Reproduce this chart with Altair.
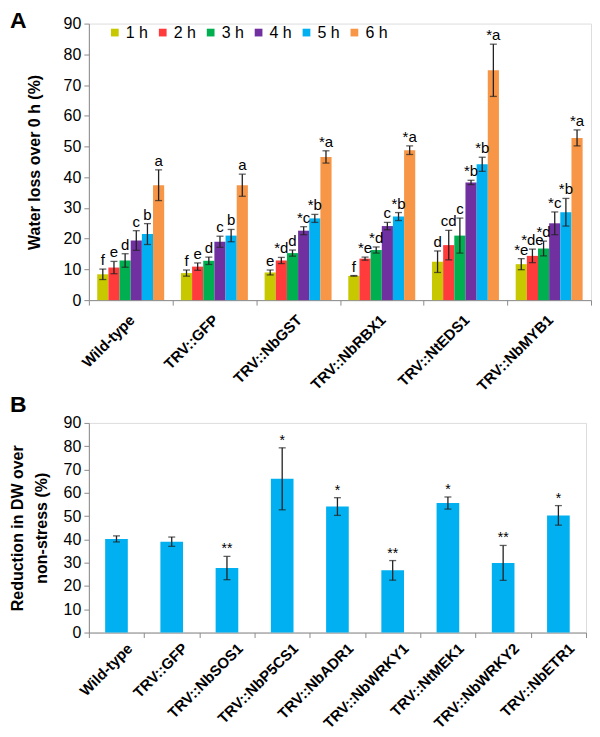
import altair as alt
import pandas as pd

FONT = "Liberation Sans"

# ---------------- Panel A data ----------------
groups_a = ["Wild-type", "TRV::GFP", "TRV::NbGST", "TRV::NbRBX1", "TRV::NtEDS1", "TRV::NbMYB1"]
hours = ["1 h", "2 h", "3 h", "4 h", "5 h", "6 h"]
hour_colors = ["#C8C800", "#FF3B3B", "#00B050", "#7030A0", "#00B0F0", "#F79646"]
means_a = [
    [8.4, 10.6, 12.9, 19.4, 21.5, 37.4],
    [8.8, 10.9, 12.8, 19.0, 21.0, 37.4],
    [9.0, 12.9, 15.3, 22.6, 26.6, 46.6],
    [7.9, 13.5, 16.3, 24.1, 27.2, 48.8],
    [12.5, 17.9, 21.0, 38.3, 44.2, 74.8],
    [11.7, 14.4, 16.8, 25.0, 28.6, 52.8],
]
err_a = [
    [1.7, 2.0, 2.2, 3.2, 3.4, 5.0],
    [1.0, 1.2, 1.2, 1.8, 2.0, 3.6],
    [0.8, 1.0, 1.0, 1.3, 1.3, 2.0],
    [0.1, 0.5, 1.0, 1.2, 1.3, 1.4],
    [3.5, 4.8, 5.7, 0.7, 2.3, 8.5],
    [1.8, 2.2, 2.4, 3.7, 4.5, 2.6],
]
letters_a = [
    ["f", "e", "d", "c", "b", "a"],
    ["f", "e", "d", "c", "b", "a"],
    ["e", "*d", "d", "*c", "*b", "*a"],
    ["f", "*e", "*d", "c", "*b", "*a"],
    ["d", "cd", "c", "*b", "*b", "*a"],
    ["*e", "*de", "*d", "*c", "*b", "*a"],
]

# ---------------- Panel B data ----------------
groups_b = ["Wild-type", "TRV::GFP", "TRV::NbSOS1", "TRV::NbP5CS1", "TRV::NbADR1",
            "TRV::NbWRKY1", "TRV::NtMEK1", "TRV::NbWRKY2", "TRV::NbETR1"]
means_b = [40.2, 39.0, 27.7, 66.0, 54.1, 26.7, 55.6, 29.9, 50.3]
err_b = [1.3, 2.0, 5.0, 13.3, 3.8, 4.2, 2.6, 7.5, 4.2]
sig_b = ["", "", "**", "*", "*", "**", "*", "**", "*"]

y_ticks = [0, 10, 20, 30, 40, 50, 60, 70, 80, 90]

rows = []
for gi, g in enumerate(groups_a):
    for hi, h in enumerate(hours):
        m = means_a[gi][hi]
        e = err_a[gi][hi]
        rows.append({"group": g, "hour": h, "mean": m, "lo": m - e, "hi": m + e,
                     "label": letters_a[gi][hi]})
df_a = pd.DataFrame(rows)

df_b = pd.DataFrame({"group": groups_b, "mean": means_b,
                     "lo": [m - e for m, e in zip(means_b, err_b)],
                     "hi": [m + e for m, e in zip(means_b, err_b)],
                     "label": sig_b})

axis_common = dict(domainColor="#8c8c8c", tickColor="#8c8c8c", grid=False,
                   labelFont=FONT, titleFont=FONT, labelColor="#000", titleColor="#000")

# ---------------- Panel A ----------------
def xa():
    return alt.X("group:N", sort=groups_a, title=None,
                 scale=alt.Scale(paddingInner=0, paddingOuter=0),
                 axis=alt.Axis(labelAngle=-45, labelAlign="right", labelBaseline="top",
                               labelFontSize=15, labelFontWeight="bold", labelPadding=7,
                               labelOffset=-4, tickBand="extent", tickSize=5, **axis_common))


def ya(field):
    return alt.Y(field, title="Water loss over 0 h (%)",
                 scale=alt.Scale(domain=[0, 90], nice=False),
                 axis=alt.Axis(values=y_ticks, tickCount=10, labelOverlap=False,
                               labelFontSize=16, titleFontSize=16,
                               titleFontWeight="bold", tickSize=5, labelPadding=3,
                               titlePadding=21, **axis_common))


xoff = alt.XOffset("hour:N", sort=hours, scale=alt.Scale(paddingInner=0, paddingOuter=0.75))

base_a = alt.Chart(df_a)
bars_a = base_a.mark_bar().encode(
    x=xa(), xOffset=xoff, y=ya("mean:Q"),
    color=alt.Color("hour:N", sort=hours,
                    scale=alt.Scale(domain=hours, range=hour_colors),
                    legend=alt.Legend(title=None, orient="none", legendX=18, legendY=1,
                                      direction="horizontal", columns=6,
                                      symbolType="square", symbolSize=60,
                                      symbolStrokeWidth=0, labelFontSize=16,
                                      labelFont=FONT, columnPadding=6,
                                      labelOffset=3)),
)
rule_a = base_a.mark_rule(color="#222", strokeWidth=1.3).encode(
    x=xa(), xOffset=xoff, y=ya("lo:Q"), y2="hi:Q")
cap_lo_a = base_a.mark_tick(color="#222", size=7, thickness=1.3, orient="horizontal").encode(
    x=xa(), xOffset=xoff, y=ya("lo:Q"))
cap_hi_a = base_a.mark_tick(color="#222", size=7, thickness=1.3, orient="horizontal").encode(
    x=xa(), xOffset=xoff, y=ya("hi:Q"))
text_a = base_a.mark_text(font=FONT, fontSize=15, baseline="bottom", dy=-1).encode(
    x=xa(), xOffset=xoff, y=ya("hi:Q"), text="label:N")
letter_a = alt.Chart(pd.DataFrame({"t": ["A"]})).mark_text(
    font=FONT, fontSize=23, fontWeight="bold", align="left", baseline="top"
).encode(text="t:N", x=alt.value(-79), y=alt.value(-14))

panel_a = alt.layer(bars_a, rule_a, cap_lo_a, cap_hi_a, text_a, letter_a).properties(
    width=503, height=277)

# ---------------- Panel B ----------------
def xb():
    return alt.X("group:N", sort=groups_b, title=None,
                 scale=alt.Scale(paddingInner=0, paddingOuter=0),
                 axis=alt.Axis(labelAngle=-45, labelAlign="right", labelBaseline="top",
                               labelFontSize=15, labelFontWeight="bold", labelPadding=3,
                               labelOffset=8, tickBand="extent", tickSize=5, **axis_common))


def yb(field):
    return alt.Y(field, title=["Reduction in DW over", "non-stress  (%)"],
                 scale=alt.Scale(domain=[0, 90], nice=False),
                 axis=alt.Axis(values=y_ticks, tickCount=10, labelOverlap=False,
                               labelFontSize=16, titleFontSize=16,
                               titleFontWeight="bold", tickSize=5, labelPadding=3,
                               titlePadding=14, titleLineHeight=24, **axis_common))


base_b = alt.Chart(df_b)
bars_b = base_b.mark_bar(color="#00B0F0", width=alt.RelativeBandSize(0.41)).encode(
    x=xb(), y=yb("mean:Q"))
rule_b = base_b.mark_rule(color="#222", strokeWidth=1.3).encode(
    x=xb(), y=yb("lo:Q"), y2="hi:Q")
cap_lo_b = base_b.mark_tick(color="#222", size=7, thickness=1.3, orient="horizontal").encode(
    x=xb(), y=yb("lo:Q"))
cap_hi_b = base_b.mark_tick(color="#222", size=7, thickness=1.3, orient="horizontal").encode(
    x=xb(), y=yb("hi:Q"))
text_b = base_b.mark_text(font=FONT, fontSize=14, baseline="bottom", dy=0).encode(
    x=xb(), y=yb("hi:Q"), text="label:N")
letter_b = alt.Chart(pd.DataFrame({"t": ["B"]})).mark_text(
    font=FONT, fontSize=23, fontWeight="bold", align="left", baseline="top"
).encode(text="t:N", x=alt.value(-79), y=alt.value(-29))

panel_b = alt.layer(bars_b, rule_b, cap_lo_b, cap_hi_b, text_b, letter_b).properties(
    width=498, height=210)

chart = alt.vconcat(panel_a, panel_b, spacing=-2).properties(
    padding=0
).configure_view(stroke=None).configure(font=FONT)

chart.save("out.html", embed_options={"renderer": "svg", "actions": False})
